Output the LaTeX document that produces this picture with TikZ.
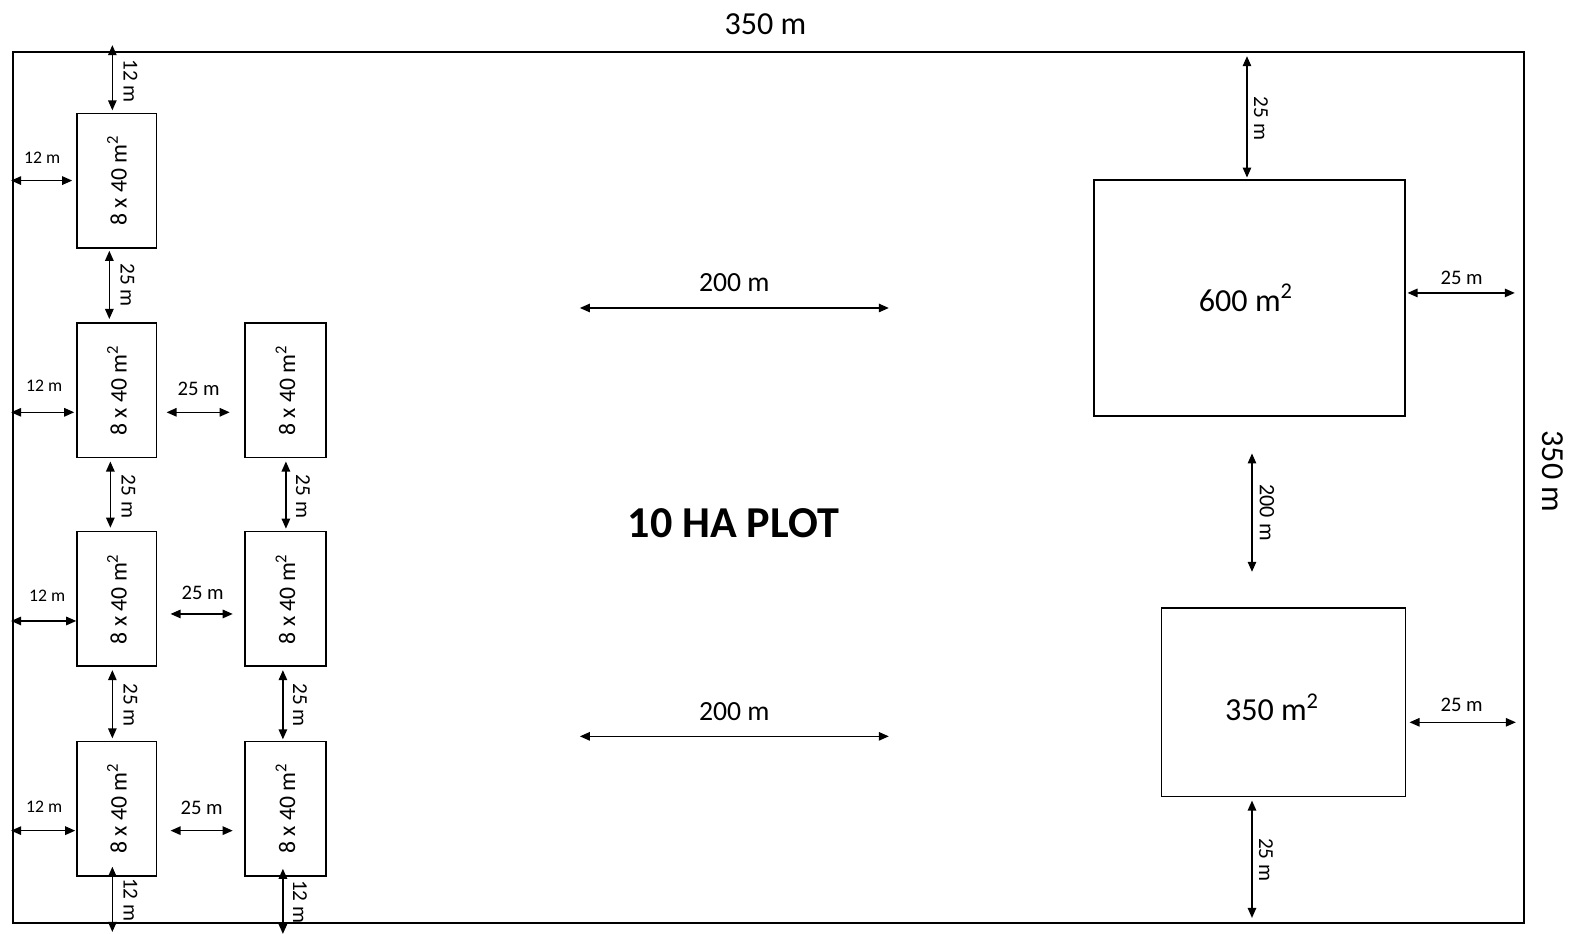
\documentclass[tikz,border=0pt]{standalone}
\usepackage{fontspec}
\setmainfont{Carlito}
\usetikzlibrary{arrows.meta}
\begin{document}
\begin{tikzpicture}[x=0.5pt,y=-0.5pt,
  plotbox/.style={draw,line width=0.75pt,inner sep=0pt,outer sep=0pt},
  dim/.style={line width=0.75pt,{Triangle[length=5pt,width=4.2pt]}-{Triangle[length=5pt,width=4.2pt]}},
  lblsm/.style={font=\fontsize{8.8}{10}\selectfont,inner sep=0pt},
  lblmd/.style={font=\fontsize{10.3}{12}\selectfont,inner sep=0pt},
  lblv/.style={font=\fontsize{10.6}{12}\selectfont,inner sep=0pt,rotate=-90},
  boxtxt/.style={font=\fontsize{11.8}{13}\selectfont,inner sep=0pt,rotate=90}]
\useasboundingbox (0,0) rectangle (1567,931);
% outer plot
\draw[line width=0.75pt] (13,52) rectangle (1519,920);
\node[font=\fontsize{16}{18}\selectfont,inner sep=0pt] (top) at (763,24) {350 m};
\node[font=\fontsize{16}{18}\selectfont,inner sep=0pt,rotate=-90] (right) at (1548,470) {350 m};
\node[font=\bfseries\fontsize{22}{24}\selectfont,inner sep=0pt] (title) at (731,522) {10 HA PLOT};

% small boxes column 1
\foreach \n/\ya/\yb in {1/113/247,2/322/456,3/530/664,4/739/873}{
  \node[plotbox,minimum width=39.5pt,minimum height=67pt] (a\n) at (116.5,{(\ya+\yb)/2}) {};
  \node[boxtxt] (ta\n) at (a\n.center) {8 x 40 m\textsuperscript{2}};
}
% small boxes column 2
\foreach \n/\ya/\yb in {2/322/456,3/530/664,4/739/873}{
  \node[plotbox,minimum width=40.5pt,minimum height=67pt] (b\n) at (284.5,{(\ya+\yb)/2}) {};
  \node[boxtxt] (tb\n) at (b\n.center) {8 x 40 m\textsuperscript{2}};
}

% left 12 m arrows
\foreach \n/\y/\xe/\ly/\lx in {1/180/72/157/42,2/411/74/385/44,3/619/76/594/47,4/828/75/804/44}{
  \coordinate (l\n s) at (11,\y); \coordinate (l\n e) at (\xe,\y);
  \draw[dim] (l\n s) -- (l\n e);
  \node[lblsm] (ll\n) at (\lx,\ly) {12 m};
}
% between columns 25 m
\foreach \n/\y/\xs/\xe/\ly/\lx in {2/411/166/229/388/198,3/612/170/232/591/202,4/828/170/232/805/201}{
  \coordinate (c\n s) at (\xs,\y); \coordinate (c\n e) at (\xe,\y);
  \draw[dim] (c\n s) -- (c\n e);
  \node[lblmd] (lc\n) at (\lx,\ly) {25 m};
}
% vertical arrows column 1
\coordinate (v0s) at (112,45); \coordinate (v0e) at (112,110);
\draw[dim] (v0s) -- (v0e);
\node[lblv] (lv0) at (130,81) {12 m};
\foreach \n/\x/\ys/\ye/\ly in {1/109/250/318/284,2/110/460/526/495,3/112/668/736/703}{
  \coordinate (v\n s) at (\x,\ys); \coordinate (v\n e) at (\x,\ye);
  \draw[dim] (v\n s) -- (v\n e);
  \node[lblv] (lv\n) at ({\x+18},\ly) {25 m};
}
\coordinate (v4s) at (112,864); \coordinate (v4e) at (112,929);
\draw[dim] (v4s) -- (v4e);
\node[lblv] (lv4) at (130,897) {12 m};
% vertical arrows column 2
\foreach \n/\x/\ys/\ye/\ly in {2/285/460/527/495,3/282/668/737/703}{
  \coordinate (w\n s) at (\x,\ys); \coordinate (w\n e) at (\x,\ye);
  \draw[dim] (w\n s) -- (w\n e);
  \node[lblv] (lw\n) at ({\x+17},\ly) {25 m};
}
\coordinate (w4s) at (282,866); \coordinate (w4e) at (282,931);
\draw[dim] (w4s) -- (w4e);
\node[lblv] (lw4) at (299,899) {12 m};

% central 200 m arrows
\coordinate (h1s) at (578,307); \coordinate (h1e) at (886,307);
\draw[dim] (h1s) -- (h1e);
\node[font=\fontsize{13.8}{15}\selectfont,inner sep=0pt] (lh1) at (732,282) {200 m};
\coordinate (h2s) at (578,734); \coordinate (h2e) at (886,734);
\draw[dim] (h2s) -- (h2e);
\node[font=\fontsize{13.8}{15}\selectfont,inner sep=0pt] (lh2) at (732,709) {200 m};

% big plot 600 m2
\node[plotbox,minimum width=155pt,minimum height=117.5pt] (p600) at (1245.5,297) {};
\node[font=\fontsize{16}{18}\selectfont,inner sep=0pt] (t600) at (1242,297) {600 m\textsuperscript{2}};
\coordinate (r1s) at (1243,56); \coordinate (r1e) at (1243,177);
\draw[dim] (r1s) -- (r1e);
\node[lblv] (lr1) at (1257,118) {25 m};
\coordinate (r2s) at (1403,292); \coordinate (r2e) at (1510,292);
\draw[dim] (r2s) -- (r2e);
\node[lblmd] (lr2) at (1457,277) {25 m};
\coordinate (r3s) at (1248,452); \coordinate (r3e) at (1248,570);
\draw[dim] (r3s) -- (r3e);
\node[lblv,font=\fontsize{11}{12}\selectfont] (lr3) at (1263,511) {200 m};

% plot 350 m2
\node[plotbox,minimum width=121.5pt,minimum height=94pt] (p350) at (1279.5,700) {};
\node[font=\fontsize{16}{18}\selectfont,inner sep=0pt] (t350) at (1268,705) {350 m\textsuperscript{2}};
\coordinate (r4s) at (1405,720); \coordinate (r4e) at (1511,720);
\draw[dim] (r4s) -- (r4e);
\node[lblmd] (lr4) at (1457,703) {25 m};
\coordinate (r5s) at (1248,798); \coordinate (r5e) at (1248,915);
\draw[dim] (r5s) -- (r5e);
\node[lblv] (lr5) at (1262,857) {25 m};
\end{tikzpicture}
\end{document}
